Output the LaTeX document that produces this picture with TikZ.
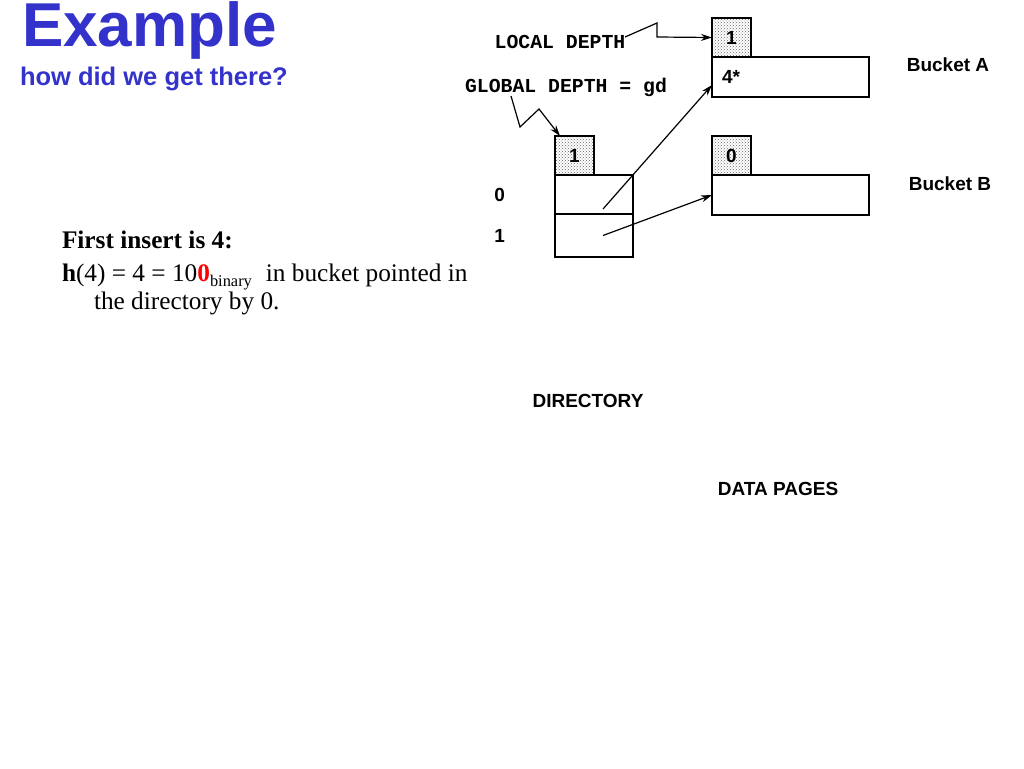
\documentclass[tikz,border=0pt]{standalone}
\usepackage{fontspec}
\setmainfont{Liberation Serif}
\setsansfont{Liberation Sans}
\setmonofont{Liberation Mono}
\definecolor{TitleBlue}{RGB}{51,51,204}
\usetikzlibrary{arrows.meta, positioning, patterns, calc}

\begin{document}
\begin{tikzpicture}[x=1pt, y=1pt,
    every node/.style={inner sep=0pt, outer sep=0pt},
    lbl/.style={font=\sffamily\bfseries\fontsize{19}{22}\selectfont},
    mono/.style={font=\ttfamily\bfseries\fontsize{19.8}{22}\selectfont},
    prose/.style={font=\fontsize{25.3}{28}\selectfont, anchor=base west},
    depthbox/.style={draw, line width=1.5pt, pattern=crosshatch dots, pattern color=black!60,
        minimum width=39pt, minimum height=39pt, lbl},
    cell/.style={draw, line width=2pt, minimum width=78pt},
    bucket/.style={draw, line width=1.5pt, minimum width=157pt, minimum height=40pt,
        text width=137pt, inner xsep=10pt, align=left, lbl},
    ptr/.style={-{Stealth[length=11pt, width=7pt]}, line width=1.2pt}
]
\useasboundingbox (0,0) rectangle (1024,-768);
% Title
\node[anchor=base west, text=TitleBlue, font=\sffamily\bfseries\fontsize{62}{66}\selectfont] (title) at (22,-47) {Example};
\node[anchor=base west, text=TitleBlue, font=\sffamily\bfseries\fontsize{25.5}{28}\selectfont] (subtitle) at (20,-85) {how did we get there?};
% Insert text
\node[prose, font=\bfseries\fontsize{25.3}{28}\selectfont] (ins1) at (62,-248) {First insert is 4:};
\node[prose] (ins2) at (62,-281) {\textbf{h}(4) = 4 = 10\textcolor{red}{\textbf{0}}\raisebox{-5pt}{\fontsize{16.4}{18}\selectfont binary}\hspace{14pt}in bucket pointed in};
\node[prose] (ins3) at (94,-309) {the directory by 0.};
% Directory
\node[depthbox, anchor=north west] (gd) at (555,-136) {1};
\node[cell, minimum height=39pt, below right=0pt and 0pt of gd.south west] (dir0) {};
\node[cell, minimum height=43pt, below=0pt of dir0] (dir1) {};
\node[lbl, left=50pt of dir0.west] (idx0) {0};
\node[lbl, left=50pt of dir1.west] (idx1) {1};
% Buckets
\node[depthbox, anchor=north west] (ldA) at (712,-18) {1};
\node[bucket, below right=0pt and 0pt of ldA.south west] (bktA) {4*};
\node[depthbox, anchor=north west] (ldB) at (712,-136) {0};
\node[bucket, below right=0pt and 0pt of ldB.south west] (bktB) {};
\node[lbl] (nameA) at (948,-65) {Bucket A};
\node[lbl] (nameB) at (950,-184) {Bucket B};
% Depth labels
\node[mono] (ldlbl) at (560,-42) {LOCAL DEPTH};
\node[mono] (gdlbl) at (566,-87) {GLOBAL DEPTH = gd};
\draw[ptr] (625,-37) -- (657,-23) -- (657,-37) -- (ldA.west);
\draw[ptr] (511,-96) -- (520,-127) -- (539,-109) -- ([xshift=5pt]gd.north west);
% Pointers
\coordinate (p0) at ($(dir0.center)+(9,-14.5)$);
\coordinate (p1) at ($(dir1.center)+(9,0)$);
\draw[ptr] (p0) -- ([yshift=-8pt]bktA.west);
\draw[ptr] (p1) -- (bktB.west);
% Captions
\node[lbl] (dirname) at (588,-401) {DIRECTORY};
\node[lbl] (pagename) at (778,-489) {DATA PAGES};
\end{tikzpicture}
\end{document}
